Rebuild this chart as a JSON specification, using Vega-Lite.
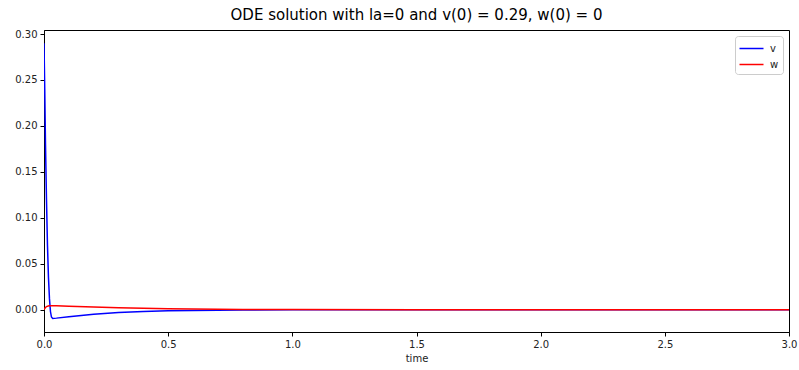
{
  "$schema": "https://vega.github.io/schema/vega-lite/v6.json",
  "width": 745,
  "height": 302,
  "autosize": "none",
  "padding": {"left": 44, "top": 30, "right": 10, "bottom": 38},
  "background": "white",
  "title": {"text": "ODE solution with la=0 and v(0) = 0.29, w(0) = 0", "font": "DejaVu Sans", "fontSize": 15, "fontWeight": "normal", "color": "black", "offset": 6},
  "config": {
    "view": {"stroke": "black", "strokeWidth": 1},
    "axis": {"labelFont": "DejaVu Sans", "labelFontSize": 10, "labelColor": "#222", "titleFont": "DejaVu Sans", "titleFontSize": 10, "titleFontWeight": "normal", "titleColor": "#222", "domainColor": "black", "tickColor": "black", "tickSize": 4, "grid": false, "labelPadding": 3}
  },
  "data": {"values": [
    {"t": 0, "value": 0.29, "series": "v"},
    {"t": 0.003, "value": 0.24, "series": "v"},
    {"t": 0.006, "value": 0.18, "series": "v"},
    {"t": 0.01, "value": 0.12, "series": "v"},
    {"t": 0.014, "value": 0.07, "series": "v"},
    {"t": 0.018, "value": 0.035, "series": "v"},
    {"t": 0.022, "value": 0.012, "series": "v"},
    {"t": 0.026, "value": -0.002, "series": "v"},
    {"t": 0.03, "value": -0.008, "series": "v"},
    {"t": 0.035, "value": -0.0095, "series": "v"},
    {"t": 0.05, "value": -0.0092, "series": "v"},
    {"t": 0.1, "value": -0.0078, "series": "v"},
    {"t": 0.15, "value": -0.0063, "series": "v"},
    {"t": 0.2, "value": -0.005, "series": "v"},
    {"t": 0.3, "value": -0.0032, "series": "v"},
    {"t": 0.4, "value": -0.002, "series": "v"},
    {"t": 0.5, "value": -0.0013, "series": "v"},
    {"t": 0.6, "value": -0.0008, "series": "v"},
    {"t": 0.7, "value": -0.0005, "series": "v"},
    {"t": 0.8, "value": -0.0003, "series": "v"},
    {"t": 1.0, "value": -0.0001, "series": "v"},
    {"t": 1.5, "value": 0, "series": "v"},
    {"t": 2.0, "value": 0, "series": "v"},
    {"t": 3.0, "value": 0, "series": "v"},
    {"t": 0, "value": 0, "series": "w"},
    {"t": 0.005, "value": 0.002, "series": "w"},
    {"t": 0.01, "value": 0.0034, "series": "w"},
    {"t": 0.02, "value": 0.0043, "series": "w"},
    {"t": 0.03, "value": 0.0044, "series": "w"},
    {"t": 0.05, "value": 0.0043, "series": "w"},
    {"t": 0.1, "value": 0.0038, "series": "w"},
    {"t": 0.2, "value": 0.0029, "series": "w"},
    {"t": 0.3, "value": 0.0021, "series": "w"},
    {"t": 0.4, "value": 0.0015, "series": "w"},
    {"t": 0.5, "value": 0.001, "series": "w"},
    {"t": 0.6, "value": 0.0007, "series": "w"},
    {"t": 0.8, "value": 0.0003, "series": "w"},
    {"t": 1.0, "value": 0.0001, "series": "w"},
    {"t": 1.5, "value": 0, "series": "w"},
    {"t": 3.0, "value": 0, "series": "w"}
  ]},
  "mark": {"type": "line", "strokeWidth": 1.5, "clip": true},
  "encoding": {
    "x": {"field": "t", "type": "quantitative", "title": "time", "scale": {"domain": [0, 3], "nice": false, "zero": false}, "axis": {"values": [0, 0.5, 1, 1.5, 2, 2.5, 3], "format": ".1f", "labelFlush": false}},
    "y": {"field": "value", "type": "quantitative", "title": null, "scale": {"domain": [-0.0243, 0.3044], "nice": false, "zero": false}, "axis": {"values": [0, 0.05, 0.1, 0.15, 0.2, 0.25, 0.3], "format": ".2f", "labelFlush": false}},
    "color": {"field": "series", "type": "nominal", "scale": {"domain": ["v", "w"], "range": ["#0000ff", "#ff0000"]},
      "legend": {"title": null, "orient": "top-right", "offset": 6, "symbolType": "M-1.6,0H1.6", "symbolStrokeWidth": 1.5, "symbolSize": 225, "symbolOffset": 4, "labelOffset": 10, "labelFont": "DejaVu Sans", "labelFontSize": 10, "labelColor": "#222", "strokeColor": "#ccc", "padding": 4, "cornerRadius": 3, "fillColor": "white", "rowPadding": 2}},
    "order": {"field": "t", "type": "quantitative"}
  }
}
